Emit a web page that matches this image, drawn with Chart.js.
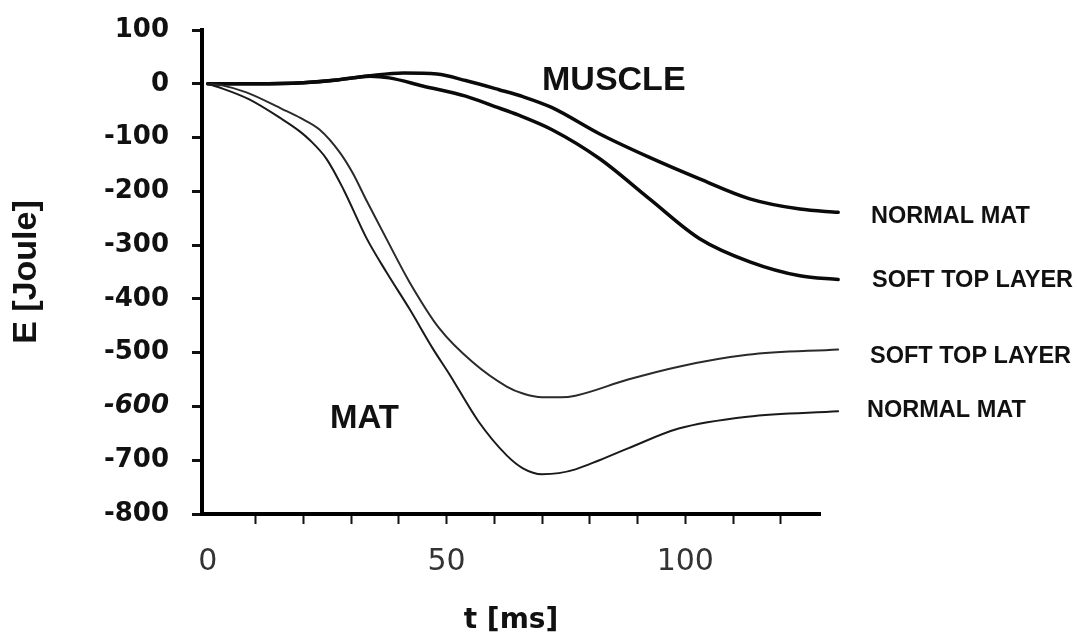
<!DOCTYPE html>
<html>
<head>
<meta charset="utf-8">
<script src="https://cdn.jsdelivr.net/npm/chart.js@4"></script>
<style>
html,body{margin:0;padding:0;background:#ffffff;}
#wrap{width:1078px;height:635px;}
</style>
</head>
<body>
<div id="wrap"><canvas id="c" width="1078" height="635"></canvas></div>
<script>
// ---- data ----
const muscleNormalT = [0, 10, 20, 27, 34, 41, 48, 54, 61, 66, 72, 82, 92.5, 103, 113.5, 124, 132];
const muscleNormalE = [0, 0, 2, 7, 15, 20, 18, 6, -11, -24, -44, -93, -137, -177, -214, -233, -239];

const muscleSoftT = [0, 10, 20, 27, 34, 38, 45, 54, 60, 65, 72, 82, 92.5, 103, 113.5, 124, 132];
const muscleSoftE = [0, 0, 2, 7, 14, 11, -4, -23, -42, -58, -85, -139, -214, -288, -331, -357, -364];

const matSoftT = [0, 3, 8.1, 15.6, 19.5, 23.4, 27.6, 30.3, 33.3, 37.4, 42.2, 48.5, 55.5, 62.6, 66, 70, 74, 77, 88, 98.6, 113, 132];
const matSoftE = [0, -3, -16, -47, -64, -85, -127, -165, -218, -288, -368, -455, -518, -563, -576, -583, -583, -580, -550, -526, -504, -494];

const matNormalT = [0, 2.5, 8.7, 15.6, 19.2, 21.3, 24.9, 28.4, 33.3, 37.4, 42.2, 47.1, 50.6, 56.7, 62.6, 66, 70, 73.5, 77, 82, 88, 98.6, 113, 132];
const matNormalE = [0, -7, -29, -66, -88, -104, -140, -196, -288, -350, -418, -492, -540, -628, -691, -715, -726, -724, -717, -700, -678, -641, -619, -609];

const xTickValues = [0, 10, 20, 30, 40, 50, 60, 70, 80, 90, 100, 110, 120];
const xLabelValues = [0, 50, 100];
const yTickValues = [100, 0, -100, -200, -300, -400, -500, -600, -700, -800];

const groupLabels = ['MUSCLE', 'MAT'];
const curveLabels = ['NORMAL MAT', 'SOFT TOP LAYER', 'SOFT TOP LAYER', 'NORMAL MAT'];
const xTitle = 't [ms]';
const yTitle = 'E [Joule]';

// ---- helpers ----
function zip(t, e) { return t.map((v, i) => ({ x: v, y: e[i] })); }

const SANS = '"Liberation Sans", Arial, sans-serif';
const DEJA = '"DejaVu Sans", Verdana, sans-serif';

const textPlugin = {
  id: 'texts',
  afterDraw(chart) {
    const ctx = chart.ctx;
    ctx.save();
    ctx.fillStyle = '#111111';
    ctx.textBaseline = 'middle';
    ctx.textAlign = 'left';
    ctx.font = 'bold 34px ' + SANS;
    ctx.fillText(groupLabels[0], 542, 81);
    ctx.font = 'bold 33px ' + SANS;
    ctx.fillText(groupLabels[1], 330, 419);
    ctx.font = 'bold 23.5px ' + SANS;
    const pos = [[871, 217], [872, 281], [870, 357], [867, 411]];
    curveLabels.forEach((s, i) => ctx.fillText(s, pos[i][0], pos[i][1]));
    ctx.restore();
  }
};

const lineBase = {
  pointRadius: 0,
  fill: false,
  clip: false,
  cubicInterpolationMode: 'monotone',
  borderCapStyle: 'round',
  borderJoinStyle: 'round'
};

new Chart(document.getElementById('c'), {
  type: 'line',
  data: {
    datasets: [
      Object.assign({ label: 'Mat – normal mat', data: zip(matNormalT, matNormalE), borderColor: '#1a1a1a', borderWidth: 2 }, lineBase),
      Object.assign({ label: 'Mat – soft top layer', data: zip(matSoftT, matSoftE), borderColor: '#2a2a2a', borderWidth: 2 }, lineBase),
      Object.assign({ label: 'Muscle – soft top layer', data: zip(muscleSoftT, muscleSoftE), borderColor: '#0a0a0a', borderWidth: 3.5 }, lineBase),
      Object.assign({ label: 'Muscle – normal mat', data: zip(muscleNormalT, muscleNormalE), borderColor: '#0a0a0a', borderWidth: 3.5 }, lineBase)
    ]
  },
  options: {
    responsive: false,
    animation: false,
    devicePixelRatio: 1,
    layout: { padding: { top: 30, right: 258, left: 0, bottom: 0 } },
    plugins: { legend: { display: false }, tooltip: { enabled: false } },
    scales: {
      x: {
        type: 'linear',
        min: -1.2,
        max: 128.2,
        afterBuildTicks: s => { s.ticks = xTickValues.map(v => ({ value: v })); },
        afterFit: s => { s.height = 121; s.paddingLeft = 0; s.paddingRight = 0; },
        grid: {
          drawOnChartArea: false,
          drawTicks: true,
          tickLength: 10,
          tickWidth: 2,
          tickColor: ctx => (ctx.tick && ctx.tick.value === 0) ? 'rgba(0,0,0,0)' : '#111111'
        },
        border: { display: true, color: '#000000', width: 4 },
        ticks: {
          padding: 20,
          autoSkip: false,
          maxRotation: 0,
          color: '#333333',
          font: { family: DEJA, size: 30 },
          callback: v => xLabelValues.includes(v) ? String(v) : ''
        },
        title: {
          display: true,
          text: xTitle,
          color: '#111111',
          font: { family: DEJA, size: 28, weight: 'bold', lineHeight: 1 },
          padding: { top: 0, bottom: 0 }
        }
      },
      y: {
        type: 'linear',
        min: -800,
        max: 100,
        afterBuildTicks: s => { s.ticks = yTickValues.map(v => ({ value: v })); },
        afterFit: s => { s.width = 202; s.paddingTop = 0; s.paddingBottom = 0; },
        grid: {
          drawOnChartArea: false,
          drawTicks: true,
          tickLength: 10,
          tickWidth: 3,
          tickColor: '#111111'
        },
        border: { display: true, color: '#000000', width: 4 },
        ticks: {
          padding: 23,
          color: '#111111',
          font: ctx => ({ family: DEJA, size: 26, weight: 'bold', style: (ctx.tick && ctx.tick.value === -600) ? 'italic' : 'normal' })
        },
        title: {
          display: true,
          text: yTitle,
          color: '#111111',
          font: { family: SANS, size: 34, weight: 'bold', lineHeight: 1 },
          padding: { top: 10, bottom: 0 }
        }
      }
    }
  },
  plugins: [textPlugin]
});
</script>
</body>
</html>
